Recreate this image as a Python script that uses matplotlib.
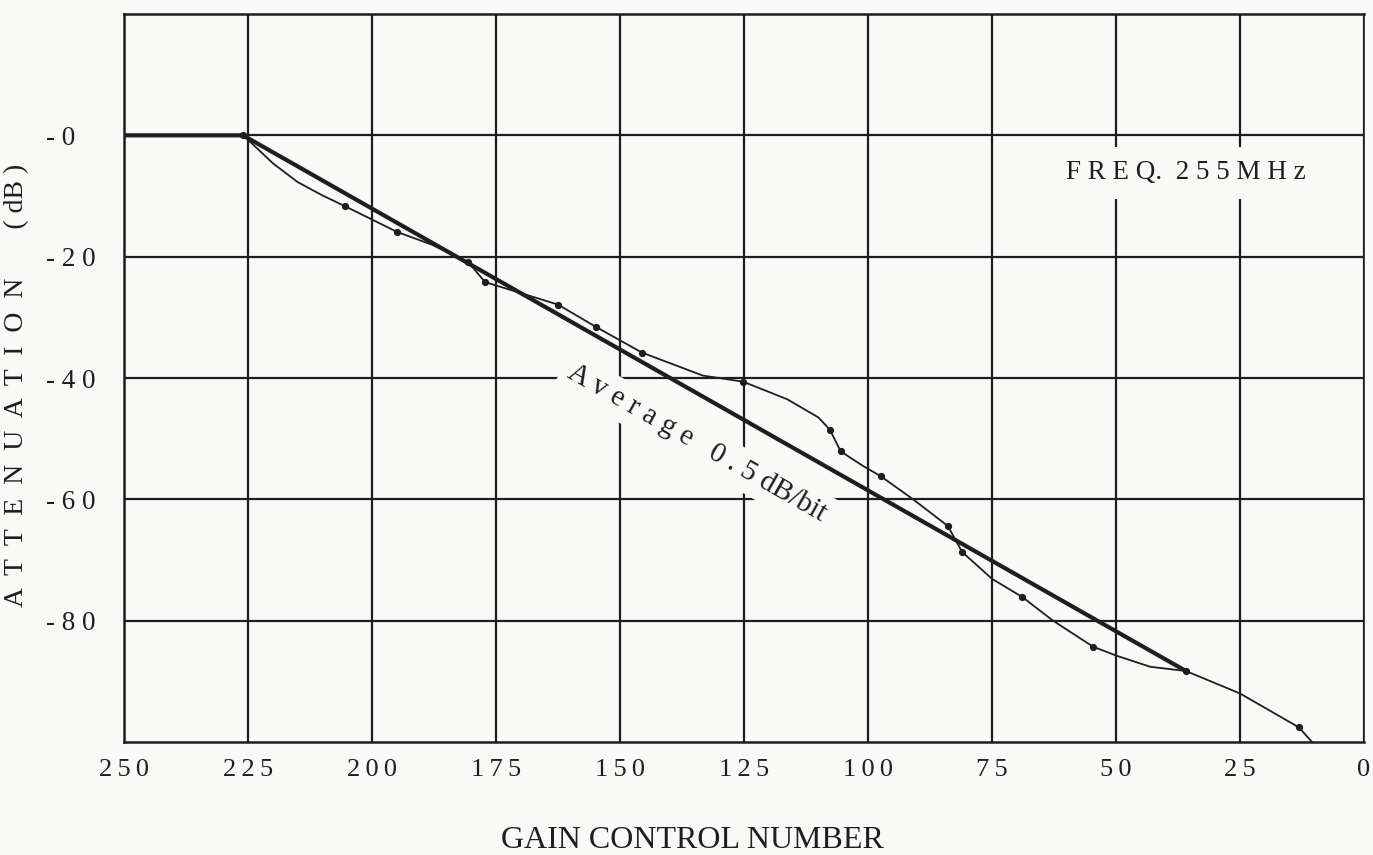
import matplotlib
matplotlib.use("Agg")
import matplotlib.pyplot as plt

# ---- data ----
# traced measured curve (gain control number, attenuation dB)
curve_x = [250, 226, 224, 220, 215, 210, 205.4, 195, 188, 180.6, 177.2, 170, 162.5, 154.8, 145.6,
           133.3, 125.2, 116.3, 110, 107.7, 105.5, 101, 97.4, 90.9, 83.9, 81.0, 75.0, 68.9, 62.7,
           54.6, 49.8, 43.1, 35.9, 25.0, 13.1, 10.5]
curve_y = [0, 0, -1.5, -4.6, -7.7, -9.9, -11.7, -15.9, -18.0, -20.9, -24.2, -26.0, -27.9, -31.6, -35.8,
           -39.6, -40.6, -43.5, -46.5, -48.5, -52.1, -54.5, -56.2, -60.0, -64.4, -68.7, -73.1, -76.1, -80.0,
           -84.3, -85.8, -87.6, -88.3, -92.0, -97.6, -100.0]
# measured points (dots)
dots_x = [226, 205.4, 195, 180.6, 177.2, 162.5, 154.8, 145.6, 125.2, 107.7, 105.5, 97.4,
          83.9, 81.0, 68.9, 54.6, 35.9, 13.1]
dots_y = [0, -11.7, -15.9, -20.9, -24.2, -27.9, -31.6, -35.8, -40.6, -48.5, -52.1, -56.2,
          -64.4, -68.7, -76.1, -84.3, -88.3, -97.6]
# average straight line
avg_x = [250, 226, 35.9]
avg_y = [0, 0, -88.3]

T = "\u2009"
x_ticks = [250, 225, 200, 175, 150, 125, 100, 75, 50, 25, 0]
x_labels = [T.join(str(v)) for v in x_ticks]
y_ticks = [0, -20, -40, -60, -80]
y_labels = ["- 0", "- 2 0", "- 4 0", "- 6 0", "- 8 0"]

plt.rcParams['font.family'] = ['Liberation Serif', 'DejaVu Serif']
ink = "#1e1e1e"
bg = "#f9f9f8"

fig = plt.figure(figsize=(13.73, 8.55), dpi=100, facecolor=bg)
ax = fig.add_axes([124/1373, (855-742)/855, (1364-124)/1373, (742-14)/855])
ax.set_facecolor(bg)

ax.set_xlim(250, 0)
ax.set_ylim(-100, 20)

ax.set_xticks(x_ticks)
ax.set_xticklabels(x_labels, fontsize=19, color=ink)
ax.set_yticks(y_ticks)
ax.set_yticklabels(y_labels, fontsize=19.5, color=ink)
ax.tick_params(axis='both', length=0)
ax.tick_params(axis='x', pad=12)
ax.yaxis.set_tick_params(pad=56)
for lbl in ax.get_yticklabels():
    lbl.set_horizontalalignment('left')

ax.set_axisbelow(True)
ax.grid(True, color=ink, linewidth=1.6)
for s in ax.spines.values():
    s.set_color(ink)
    s.set_linewidth(1.8)
ax.spines['right'].set_linewidth(1.2)

ax.plot(avg_x, avg_y, color=ink, linewidth=3.0, zorder=5, solid_capstyle='butt')
ax.plot(curve_x, curve_y, color=ink, linewidth=1.3, zorder=5, solid_joinstyle='round')
ax.plot(dots_x, dots_y, linestyle='none', marker='o', markersize=4.2, color=ink, zorder=6)

ax.text(134.5, -50.8, "A v e r a g e   0 . 5 dB/bit", rotation=-29.6,
        rotation_mode='anchor', ha='center', va='center', fontsize=21, color=ink,
        zorder=3, bbox=dict(boxstyle='square,pad=0.25', fc=bg, ec='none'))

ax.text(35.9, -6.2, "F R E Q.  2 5 5 M H z", ha='center', va='center', fontsize=19.5,
        color=ink, zorder=3, bbox=dict(boxstyle='square,pad=0.5', fc=bg, ec='none'))

fig.text(692/1373, 1 - 840/855, "GAIN CONTROL NUMBER", ha='center', va='center',
         fontsize=23, color=ink)
fig.text(17/1373, 1 - 385/855, "A  T  T  E  N  U  A  T  I  O  N       ( dB )", rotation=90,
         ha='center', va='center', fontsize=20, color=ink)

fig.savefig("out.png", dpi=100, facecolor=bg)
